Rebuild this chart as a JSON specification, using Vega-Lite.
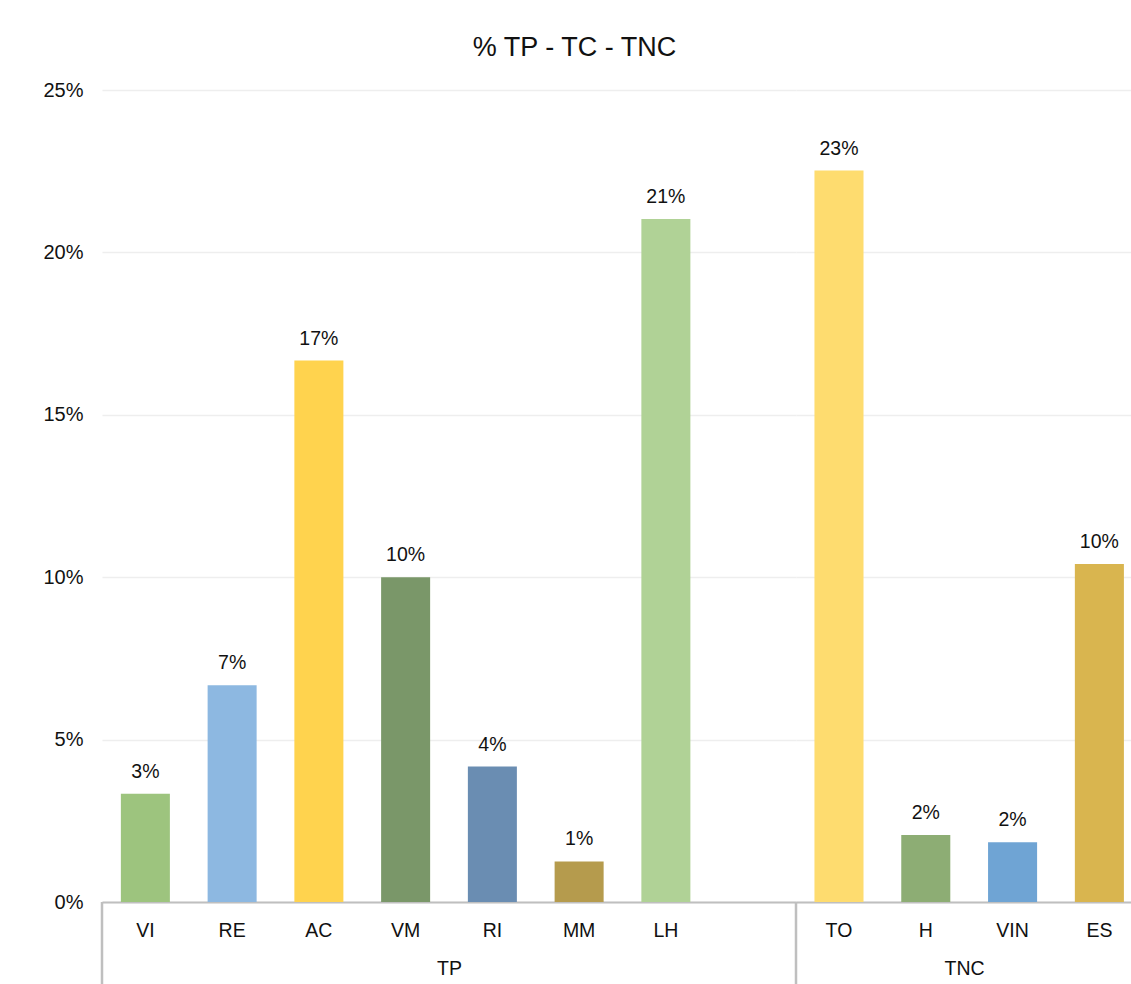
{
  "$schema": "https://vega.github.io/schema/vega-lite/v6.json",
  "autosize": {"type": "pad"},
  "padding": {"left": 42, "top": 34, "right": 0, "bottom": 0},
  "background": "#ffffff",
  "title": {
    "text": "% TP - TC - TNC",
    "fontSize": 27,
    "fontWeight": "normal",
    "color": "#111111",
    "anchor": "middle",
    "frame": "bounds",
    "dx": -13,
    "offset": 18
  },
  "config": {
    "font": "Liberation Sans",
    "view": {"stroke": null},
    "concat": {"spacing": 0}
  },
  "datasets": {
    "shares": [
      {"cat": "VI", "grp": "TP", "pct": 0.0333},
      {"cat": "RE", "grp": "TP", "pct": 0.0667},
      {"cat": "AC", "grp": "TP", "pct": 0.1667},
      {"cat": "VM", "grp": "TP", "pct": 0.1},
      {"cat": "RI", "grp": "TP", "pct": 0.0417},
      {"cat": "MM", "grp": "TP", "pct": 0.0125},
      {"cat": "LH", "grp": "TP", "pct": 0.2103},
      {"cat": "TO", "grp": "TNC", "pct": 0.2252},
      {"cat": "H", "grp": "TNC", "pct": 0.0206},
      {"cat": "VIN", "grp": "TNC", "pct": 0.0184},
      {"cat": "ES", "grp": "TNC", "pct": 0.1041}
    ]
  },
  "spacing": 0,
  "bounds": "flush",
  "hconcat": [
    {
      "width": 694,
      "height": 812,
      "data": {"name": "shares"},
      "transform": [{"filter": "datum.grp === 'TP'"}],
      "layer": [
        {
          "encoding": {
            "x": {
              "field": "cat",
              "type": "nominal",
              "sort": null,
              "scale": {
                "domain": ["VI", "RE", "AC", "VM", "RI", "MM", "LH", " "],
                "paddingInner": 0.435,
                "paddingOuter": 0.2175
              },
              "axis": {
                "title": "TP",
                "titleFontSize": 19.5,
                "titleFontWeight": "normal",
                "titleColor": "#111111",
                "titlePadding": 20,
                "labelFontSize": 19.5,
                "labelColor": "#111111",
                "labelPadding": 19,
                "labelAngle": 0,
                "ticks": false,
                "domainColor": "#BFBFBF",
                "domainWidth": 2
              }
            },
            "y": {
              "field": "pct",
              "type": "quantitative",
              "scale": {"domain": [0, 0.25], "nice": false},
              "axis": {
                "title": null,
                "values": [0, 0.05, 0.1, 0.15, 0.2, 0.25],
                "format": ".0%",
                "labelFontSize": 20,
                "labelColor": "#111111",
                "labelPadding": 19,
                "ticks": false,
                "domain": false,
                "grid": true,
                "gridColor": "#EEEEEE",
                "gridWidth": 1.5,
                "minExtent": 59,
                "maxExtent": 59
              }
            }
          },
          "layer": [
            {
              "mark": {"type": "bar"},
              "encoding": {
                "color": {
                  "field": "cat",
                  "type": "nominal",
                  "scale": {
                    "domain": ["VI", "RE", "AC", "VM", "RI", "MM", "LH", "TO", "H", "VIN", "ES"],
                    "range": ["#9DC47E", "#8DB8E1", "#FFD34E", "#7A9769", "#6A8DB2", "#B59B4D", "#B0D296", "#FEDC6F", "#8DAD74", "#6FA4D4", "#D9B54F"]
                  },
                  "legend": null
                }
              }
            },
            {
              "mark": {"type": "text", "baseline": "alphabetic", "dy": -16, "fontSize": 19.5, "color": "#111111"},
              "encoding": {"text": {"field": "pct", "type": "quantitative", "format": ".0%"}}
            }
          ]
        },
        {
          "data": {"values": [{}]},
          "mark": {"type": "rule", "color": "#BFBFBF", "strokeWidth": 2.5},
          "encoding": {
            "x": {"datum": 0, "type": "quantitative", "scale": {"domain": [0, 1]}, "axis": null},
            "y": {"datum": 0, "type": "quantitative", "scale": {"domain": [0, 0.25], "nice": false}},
            "y2": {"datum": -0.0253}
          }
        }
      ],
      "resolve": {"scale": {"x": "independent"}}
    },
    {
      "width": 336,
      "height": 812,
      "data": {"name": "shares"},
      "transform": [{"filter": "datum.grp === 'TNC'"}],
      "layer": [
        {
          "encoding": {
            "x": {
              "field": "cat",
              "type": "nominal",
              "sort": null,
              "scale": {
                "domain": ["TO", "H", "VIN", "ES"],
                "paddingInner": 0.435,
                "paddingOuter": 0.153,
                "align": 0.695
              },
              "axis": {
                "title": "TNC",
                "titleFontSize": 19.5,
                "titleFontWeight": "normal",
                "titleColor": "#111111",
                "titlePadding": 20,
                "labelFontSize": 19.5,
                "labelColor": "#111111",
                "labelPadding": 19,
                "labelAngle": 0,
                "ticks": false,
                "domainColor": "#BFBFBF",
                "domainWidth": 2
              }
            },
            "y": {
              "field": "pct",
              "type": "quantitative",
              "scale": {"domain": [0, 0.25], "nice": false},
              "axis": {
                "title": null,
                "values": [0, 0.05, 0.1, 0.15, 0.2, 0.25],
                "labels": false,
                "ticks": false,
                "domain": false,
                "grid": true,
                "gridColor": "#EEEEEE",
                "gridWidth": 1.5,
                "minExtent": 0,
                "maxExtent": 0
              }
            }
          },
          "layer": [
            {
              "mark": {"type": "bar"},
              "encoding": {
                "color": {
                  "field": "cat",
                  "type": "nominal",
                  "scale": {
                    "domain": ["VI", "RE", "AC", "VM", "RI", "MM", "LH", "TO", "H", "VIN", "ES"],
                    "range": ["#9DC47E", "#8DB8E1", "#FFD34E", "#7A9769", "#6A8DB2", "#B59B4D", "#B0D296", "#FEDC6F", "#8DAD74", "#6FA4D4", "#D9B54F"]
                  },
                  "legend": null
                }
              }
            },
            {
              "mark": {"type": "text", "baseline": "alphabetic", "dy": -16, "fontSize": 19.5, "color": "#111111"},
              "encoding": {"text": {"field": "pct", "type": "quantitative", "format": ".0%"}}
            }
          ]
        },
        {
          "data": {"values": [{}]},
          "mark": {"type": "rule", "color": "#BFBFBF", "strokeWidth": 2.5},
          "encoding": {
            "x": {"datum": 0, "type": "quantitative", "scale": {"domain": [0, 1]}, "axis": null},
            "y": {"datum": 0, "type": "quantitative", "scale": {"domain": [0, 0.25], "nice": false}},
            "y2": {"datum": -0.0253}
          }
        }
      ],
      "resolve": {"scale": {"x": "independent"}}
    }
  ]
}
